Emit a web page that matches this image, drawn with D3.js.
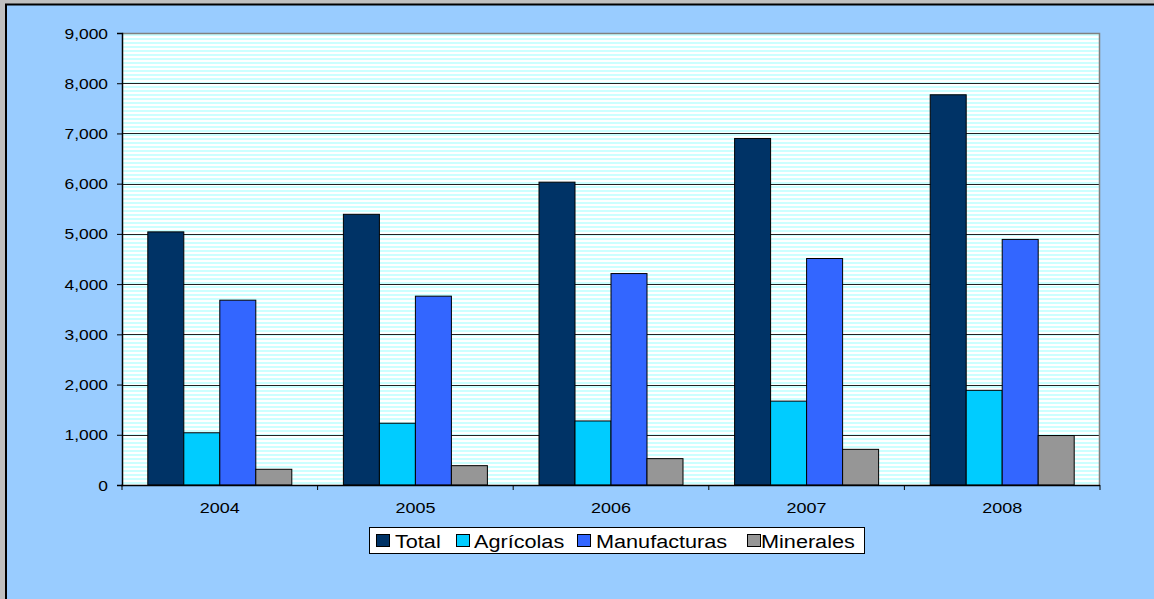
<!DOCTYPE html>
<html><head><meta charset="utf-8">
<script src="https://cdn.jsdelivr.net/npm/d3@7"></script>
<style>html,body{margin:0;padding:0;background:#99CCFF;}svg{display:block;}</style>
</head><body>
<svg id="c" width="1154" height="599"></svg>
<script>
const years = ["2004","2005","2006","2007","2008"];
const seriesNames = ["Total","Agrícolas","Manufacturas","Minerales"];
const totalVals = [5040, 5390, 6030, 6900, 7770];
const agricolasVals = [1040, 1230, 1275, 1670, 1885];
const manufacturasVals = [3680, 3760, 4210, 4510, 4890];
const mineralesVals = [313, 385, 525, 710, 985];
const yTicks = [0,1000,2000,3000,4000,5000,6000,7000,8000,9000];
const colors = ["#003366","#00CCFF","#3366FF","#969696"];

const seriesVals = [totalVals, agricolasVals, manufacturasVals, mineralesVals];
const svg = d3.select("#c");
const W = 1154, H = 599;
const m = {l:122, r:1100, t:33, b:485};
const FONT = "Liberation Sans, Arial, sans-serif";
const SX = 1.16;

// outer frame
svg.append("rect").attr("x",0).attr("y",0).attr("width",W).attr("height",H).attr("fill","#99CCFF");
svg.append("rect").attr("x",0).attr("y",0).attr("width",W).attr("height",4).attr("fill","#c0c0c0");
svg.append("rect").attr("x",0).attr("y",0).attr("width",5).attr("height",H).attr("fill","#c0c0c0");
svg.append("rect").attr("x",6).attr("y",4.5).attr("width",W+10).attr("height",H+10)
  .attr("fill","none").attr("stroke","#000").attr("stroke-width",2);

// stripe pattern
const defs = svg.append("defs");
const pat = defs.append("pattern").attr("id","stripes").attr("patternUnits","userSpaceOnUse")
  .attr("x",0).attr("y",m.t).attr("width",8).attr("height",4);
pat.append("rect").attr("width",8).attr("height",4).attr("fill","#FFFFFF");
pat.append("rect").attr("y",1).attr("width",8).attr("height",2).attr("fill","#CCFFFF");

svg.append("rect").attr("x",m.l).attr("y",m.t).attr("width",m.r-m.l).attr("height",m.b-m.t)
  .attr("fill","url(#stripes)");

const y = d3.scaleLinear().domain([0,9000]).range([m.b,m.t]);
const x0 = d3.scaleBand().domain(years).range([m.l,m.r]).paddingInner(0).paddingOuter(0);
const groupW = 144;
const x1 = d3.scaleBand().domain(seriesNames).range([0,groupW]).padding(0);

// gridlines
svg.append("g").selectAll("line").data(yTicks.filter(t=>t>0)).join("line")
  .attr("x1",m.l).attr("x2",m.r).attr("y1",d=>Math.round(y(d))+0.5).attr("y2",d=>Math.round(y(d))+0.5)
  .attr("stroke","#222").attr("stroke-width",1);

// plot border top/right
svg.append("path").attr("d",`M${m.l},${m.t+0.5}H${m.r-0.5}V${m.b}`).attr("fill","none")
  .attr("stroke","#808080").attr("stroke-width",1.5);

// bars
const data = [];
years.forEach((yr,i)=>seriesNames.forEach((s,j)=>data.push({yr, s, v:seriesVals[j][i], c:colors[j]})));
svg.append("g").selectAll("rect").data(data).join("rect")
  .attr("x",d=>x0(d.yr)+(x0.bandwidth()-groupW)/2+x1(d.s))
  .attr("y",d=>y(d.v))
  .attr("width",x1.bandwidth())
  .attr("height",d=>m.b-y(d.v))
  .attr("fill",d=>d.c).attr("stroke","#000").attr("stroke-width",1);

// y axis
const ya = svg.append("g").attr("transform",`translate(${m.l},0)`)
  .call(d3.axisLeft(y).tickValues(yTicks).tickSize(5).tickFormat(""));
ya.select(".domain").attr("stroke","#000").attr("stroke-width",1.5);
ya.selectAll("line").attr("stroke","#000");
const fmt = d3.format(",");
svg.append("g").selectAll("text").data(yTicks).join("text")
  .attr("transform",d=>`translate(108,${y(d)+5.5}) scale(${SX},1)`)
  .attr("text-anchor","end").attr("font-family",FONT).attr("font-size",15).attr("fill","#000")
  .text(d=>fmt(d));

// x axis
svg.append("line").attr("x1",m.l-1).attr("x2",m.r).attr("y1",m.b+0.5).attr("y2",m.b+0.5).attr("stroke","#000").attr("stroke-width",1.5);
const bounds = years.map(d=>x0(d)).concat([m.r]);
svg.append("g").selectAll("line").data(bounds).join("line")
  .attr("x1",d=>d).attr("x2",d=>d).attr("y1",m.b).attr("y2",m.b+5).attr("stroke","#000");
svg.append("g").selectAll("text").data(years).join("text")
  .attr("transform",d=>`translate(${x0(d)+x0.bandwidth()/2},513) scale(${SX},1)`)
  .attr("text-anchor","middle").attr("font-family",FONT).attr("font-size",15.5).attr("fill","#000")
  .text(d=>d);

// legend
const lg = svg.append("g");
lg.append("rect").attr("x",369.5).attr("y",527.5).attr("width",495).attr("height",26)
  .attr("fill","#fff").attr("stroke","#000").attr("stroke-width",1);
const legSw = [376.5, 456.5, 577.5, 747.5];
const legTx = [395, 474, 596, 761];
seriesNames.forEach((s,j)=>{
  lg.append("rect").attr("x",legSw[j]).attr("y",534.5).attr("width",13).attr("height",12)
    .attr("fill",colors[j]).attr("stroke","#000");
  lg.append("text").attr("transform",`translate(${legTx[j]},547.5) scale(1.14,1)`).text(s)
    .attr("font-family",FONT).attr("font-size",19).attr("fill","#000");
});
</script>
</body></html>
